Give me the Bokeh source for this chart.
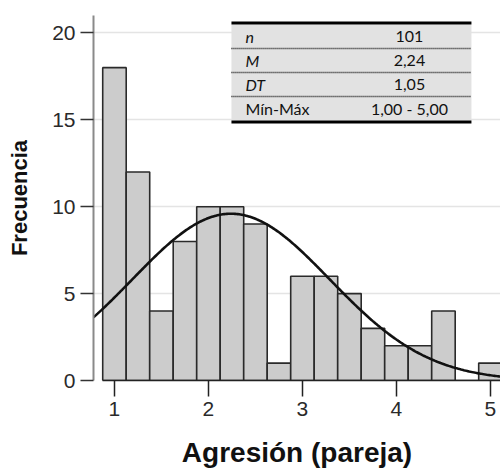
import numpy as np
from bokeh.plotting import figure
from bokeh.models import Range1d
from bokeh.core.properties import value
from bokeh.embed import file_html
from bokeh.resources import INLINE

# ---- data ----
bin_centers = [1.00, 1.25, 1.50, 1.75, 2.00, 2.25, 2.50, 2.75, 3.00,
               3.25, 3.50, 3.75, 4.00, 4.25, 4.50, 4.75, 5.00]
counts = [18, 12, 4, 8, 10, 10, 9, 1, 6, 6, 5, 3, 2, 2, 4, 0, 1]
bin_width = 0.25
n_obs = 101
mean_val = 2.24
sd_val = 1.05
x_ticks = [1, 2, 3, 4, 5]
y_ticks = [0, 5, 10, 15, 20]
x_title = "Agresión (pareja)"
y_title = "Frecuencia"
table_labels = ["n", "M", "DT", "Mín-Máx"]
table_values = ["101", "2,24", "1,05", "1,00 - 5,00"]
table_label_styles = ["italic", "italic", "italic", "normal"]

# ---- layout ----
X0, X1 = 0.777, 5.107
Y0, Y1 = 0.0, 21.0

p = figure(width=500, height=475, output_backend="svg", toolbar_location=None,
           x_range=Range1d(X0, X1), y_range=Range1d(Y0, Y1),
           min_border_left=93, min_border_right=0, min_border_top=15,
           min_border_bottom=95)
p.background_fill_color = "white"
p.border_fill_color = "white"
p.outline_line_color = None

# grid
p.xgrid.grid_line_color = None
p.ygrid.ticker = y_ticks
p.ygrid.grid_line_color = "#e4e4e4"
p.ygrid.grid_line_width = 1.5

# bars
lefts = [c - bin_width / 2 for c in bin_centers]
rights = [c + bin_width / 2 for c in bin_centers]
p.quad(left=lefts, right=rights, bottom=[0] * len(counts), top=counts,
       fill_color="#cccccc", line_color="#2a2a2a", line_width=1.6)

# normal curve from M and DT
xs = np.linspace(X0, X1, 300)
ys = n_obs * bin_width / (sd_val * np.sqrt(2 * np.pi)) * np.exp(-0.5 * ((xs - mean_val) / sd_val) ** 2)
p.line(xs, ys, line_color="#111111", line_width=2.6)

# ---- statistics table (annotation) ----
def py2d(py):
    # page pixel y -> data y
    return (380 - py) / 365 * (Y1 - Y0)

def px2d(px):
    return (px - 114) / 94 + 1

tl, tr = px2d(231), px2d(471)
row_edges = [24, 48, 72, 96, 120]
p.quad(left=[tl], right=[tr], bottom=[py2d(120)], top=[py2d(24)],
       fill_color="#e2e2e2", line_color=None)
for e in row_edges[1:-1]:
    p.line([tl, tr], [py2d(e), py2d(e)], line_color="#111111",
           line_width=1.6, line_dash="1 1")
p.line([tl, tr], [py2d(22.5), py2d(22.5)], line_color="black", line_width=3.2)
p.line([tl, tr], [py2d(121.5), py2d(121.5)], line_color="black", line_width=3.2)

row_mid = [py2d((row_edges[i] + row_edges[i + 1]) / 2) for i in range(4)]
for i in range(4):
    p.text(x=[px2d(245)], y=[row_mid[i]], text=[table_labels[i]],
           text_font=value("Lato"), text_font_size="16px",
           text_font_style=table_label_styles[i],
           text_baseline="middle", text_align="left", text_color="#111111")
    p.text(x=[px2d(409)], y=[row_mid[i]], text=[table_values[i]],
           text_font=value("Lato"), text_font_size="16px",
           text_baseline="middle", text_align="center", text_color="#111111")

# ---- axes ----
p.xaxis.ticker = x_ticks
p.xaxis.bounds = (0.875, 5.6)
p.xaxis.major_tick_out = 16
p.xaxis.major_tick_in = 0
p.xaxis.minor_tick_line_color = None
p.xaxis.axis_line_color = "#222222"
p.xaxis.axis_line_width = 1.5
p.xaxis.major_tick_line_color = "#222222"
p.xaxis.major_tick_line_width = 1.5
p.xaxis.major_label_standoff = 5
p.xaxis.major_label_text_font = "Liberation Sans"
p.xaxis.major_label_text_font_size = "21px"
p.xaxis.major_label_text_color = "#2a2a2a"
p.xaxis.axis_label = x_title
p.xaxis.axis_label_text_font = "Liberation Sans"
p.xaxis.axis_label_text_font_style = "bold"
p.xaxis.axis_label_text_font_size = "28px"
p.xaxis.axis_label_text_color = "#111111"
p.xaxis.axis_label_standoff = 18

p.yaxis.ticker = y_ticks
p.yaxis.major_tick_out = 13
p.yaxis.major_tick_in = 0
p.yaxis.minor_tick_line_color = None
p.yaxis.axis_line_color = "#8a8a8a"
p.yaxis.axis_line_width = 2
p.yaxis.major_tick_line_color = "#333333"
p.yaxis.major_tick_line_width = 1.5
p.yaxis.major_label_standoff = 5
p.yaxis.major_label_text_font = "Liberation Sans"
p.yaxis.major_label_text_font_size = "21px"
p.yaxis.major_label_text_color = "#2a2a2a"
p.yaxis.axis_label = y_title
p.yaxis.axis_label_text_font = "Liberation Sans"
p.yaxis.axis_label_text_font_style = "bold"
p.yaxis.axis_label_text_font_size = "22px"
p.yaxis.axis_label_text_color = "#111111"
p.yaxis.axis_label_standoff = 17

open("out.html", "w").write(file_html(p, INLINE))
